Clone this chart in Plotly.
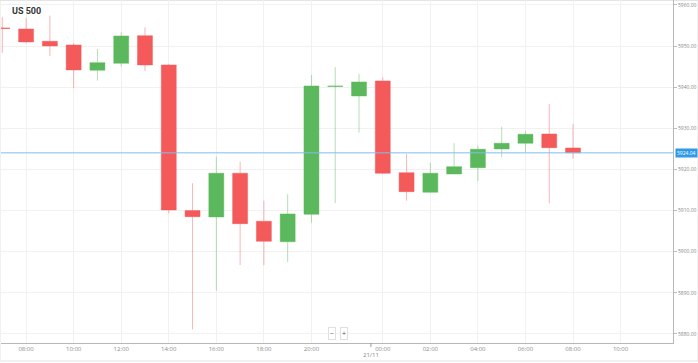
import plotly.graph_objects as go

# ---- data (hourly candles, US 500) ----
times = ["07:00", "08:00", "09:00", "10:00", "11:00", "12:00", "13:00", "14:00",
         "15:00", "16:00", "17:00", "18:00", "19:00", "20:00", "21:00", "23:00",
         "00:00", "01:00", "02:00", "03:00", "04:00", "05:00", "06:00", "07:00", "08:00"]
opens  = [5954.40, 5954.16, 5951.17, 5950.27, 5944.12, 5945.82, 5952.53, 5945.41,
          5910.00, 5908.45, 5919.08, 5907.40, 5902.44, 5909.10, 5940.20, 5937.87,
          5941.52, 5919.22, 5914.46, 5918.90, 5920.44, 5924.98, 5926.37, 5928.63, 5925.23]
highs  = [5957.08, 5956.77, 5957.40, 5950.70, 5949.30, 5953.36, 5954.58, 5945.65,
          5916.64, 5923.11, 5921.90, 5912.41, 5913.97, 5942.98, 5944.85, 5943.22,
          5942.42, 5923.77, 5921.65, 5926.37, 5925.79, 5930.41, 5929.36, 5935.93, 5931.06]
lows   = [5948.33, 5950.69, 5947.60, 5939.75, 5941.60, 5945.00, 5943.95, 5909.35,
          5881.14, 5890.53, 5896.78, 5896.78, 5897.43, 5907.07, 5911.78, 5928.95,
          5918.90, 5912.41, 5914.40, 5918.85, 5917.20, 5922.97, 5924.26, 5911.78, 5922.63]
closes = [5954.30, 5951.00, 5950.03, 5944.20, 5945.97, 5952.46, 5945.41, 5910.15,
          5908.52, 5919.08, 5906.82, 5902.54, 5909.18, 5940.30, 5940.25, 5941.28,
          5919.08, 5914.60, 5919.08, 5920.68, 5924.91, 5926.37, 5928.56, 5925.30, 5924.04]

tick_labels = ["08:00", "10:00", "12:00", "14:00", "16:00", "18:00", "20:00",
               "00:00", "02:00", "04:00", "06:00", "08:00", "10:00"]
y_ticks = [5880, 5890, 5900, 5910, 5920, 5930, 5940, 5950, 5960]
title = "US 500"
day_label = "21/11"

# ---- positions ----
x = list(range(len(times)))
# tick positions: index of each labelled hour (last one lies past the data)
tick_pos = []
for i, lab in enumerate(tick_labels[:-1]):
    start = tick_pos[-1] + 1 if tick_pos else 0
    tick_pos.append(times.index(lab, start))
tick_pos.append(tick_pos[-1] + 2)
day_pos = (times.index("23:00") + times.index("00:00")) / 2

GREEN = "#5cb85c"
RED = "#f45a5a"

fig = go.Figure()
fig.add_trace(go.Candlestick(
    x=x, open=opens, high=highs, low=lows, close=closes,
    increasing=dict(fillcolor=GREEN, line=dict(color="rgba(92,184,92,0.45)", width=1)),
    decreasing=dict(fillcolor=RED, line=dict(color="rgba(244,90,90,0.45)", width=1)),
    whiskerwidth=0, showlegend=False, hoverinfo="skip",
))

last = closes[-1]
fig.add_hline(y=last, line=dict(color="rgb(124,190,240)", width=1))

plot_w = 672.0
px_per_idx = 23.78
x0 = -0.055
x1 = x0 + plot_w / px_per_idx

fig.update_layout(
    width=698, height=363,
    margin=dict(l=1, r=25, t=0, b=20),
    paper_bgcolor="white", plot_bgcolor="white",
    font=dict(family="Open Sans, Roboto, sans-serif", size=6, color="#888"),
    boxgap=0.37, boxgroupgap=0,
    xaxis=dict(
        range=[x0, x1], rangeslider=dict(visible=False),
        tickmode="array", tickvals=tick_pos, ticktext=tick_labels,
        showgrid=True, gridcolor="#f1f1f1", gridwidth=1,
        showline=True, linecolor="#b8b8b8", linewidth=1,
        ticks="", tickfont=dict(size=6, color="#8a8a8a"), zeroline=False,
    ),
    yaxis=dict(
        side="right", range=[5877.81, 5961.2],
        tickmode="array", tickvals=y_ticks, tickformat=".2f",
        showgrid=True, gridcolor="#f1f1f1", gridwidth=1,
        showline=True, linecolor="#b8b8b8", linewidth=1,
        ticks="outside", ticklen=3, tickcolor="#bbb",
        tickfont=dict(size=5, color="#888"), zeroline=False,
    ),
)

# title
fig.add_annotation(text="<b>%s</b>" % title, xref="paper", yref="paper",
                   x=9 / plot_w, y=1 - 11 / 343, xanchor="left", yanchor="middle",
                   showarrow=False, font=dict(family="Roboto, sans-serif", size=9, color="#333"))

# current price label
fig.add_annotation(text="%.2f" % last, xref="paper", yref="y", x=1, y=last,
                   xanchor="left", yanchor="middle", xshift=2, showarrow=False,
                   bgcolor="#2e9ae8", borderpad=1, font=dict(size=5, color="white"))

# day separator
fig.add_shape(type="line", xref="x", yref="paper", x0=day_pos, x1=day_pos,
              y0=0, y1=-4 / 343, line=dict(color="#999", width=1))
fig.add_annotation(text=day_label, xref="x", yref="paper", x=day_pos, y=-12 / 343,
                   xanchor="center", yanchor="middle", showarrow=False,
                   font=dict(size=6, color="#888"))

# zoom buttons
for lab, px in [("\u2212", 332), ("+", 344)]:
    fig.add_annotation(text=lab, xref="paper", yref="paper", x=(px - 1) / plot_w,
                       y=10 / 343, xanchor="center", yanchor="middle", showarrow=False,
                       bgcolor="white", bordercolor="#e0e0e0", borderwidth=1, borderpad=1,
                       font=dict(size=7, color="#555"))

# widget frame
fig.add_shape(type="rect", xref="paper", yref="paper",
              x0=-1 / plot_w, x1=697 / plot_w, y0=(343 - 361) / 343, y1=1 - 0.5 / 343,
              line=dict(color="#e4e4e4", width=1), layer="below")

fig.write_html("out.html", config={"displayModeBar": False},
               post_script="document.body.style.margin='0';document.body.style.overflow='hidden';")
